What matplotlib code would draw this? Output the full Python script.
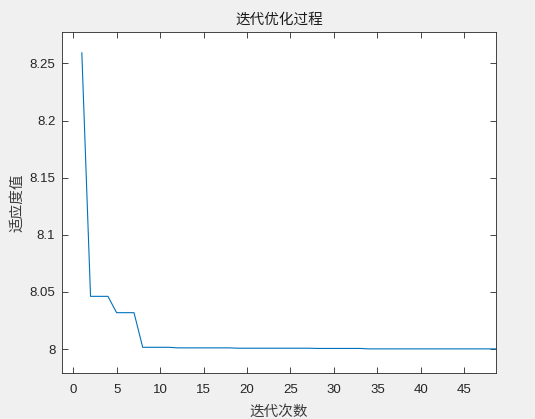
import numpy as np
import matplotlib.pyplot as plt

plt.rcParams['font.family'] = ['Liberation Sans', 'Noto Sans CJK SC', 'DejaVu Sans']

# 迭代次数 / 适应度值
iters = list(range(1, 50))
fitness = ([8.2593, 8.0461, 8.0461, 8.0461, 8.0318, 8.0318, 8.0318]
           + [8.0015] * 4      # 8-11
           + [8.0010] * 7      # 12-18
           + [8.0007] * 9      # 19-27
           + [8.0005] * 6      # 28-33
           + [8.0001] * 16)    # 34-49

xticks = list(range(0, 50, 5))
yticks = [8.0, 8.05, 8.1, 8.15, 8.2, 8.25]
ytick_labels = ['8', '8.05', '8.1', '8.15', '8.2', '8.25']

fig = plt.figure(figsize=(5.35, 4.19), dpi=100, facecolor='#f0f0f0')
ax = fig.add_axes([0.1164, 0.1098, 0.8101, 0.8138])
ax.plot(iters, fitness, color='#0072BD', linewidth=0.8)

ax.set_xlim(-1.25, 48.6)
ax.set_ylim(7.979, 8.2775)
ax.set_xticks(xticks)
ax.set_yticks(yticks)
ax.set_yticklabels(ytick_labels)

ax.tick_params(direction='in', top=True, right=True, length=4, width=0.6,
               colors='#262626', labelsize=9.5, pad=5)
ax.tick_params(axis='x', pad=8)
for s in ax.spines.values():
    s.set_color('#262626')
    s.set_linewidth(0.6)

cjk = ['Noto Sans CJK SC', 'DejaVu Sans']
ax.set_title('迭代优化过程', family=cjk, fontsize=10.5, color='#1a1a1a', pad=6)
ax.set_xlabel('迭代次数', family=cjk, fontsize=10.5, color='#3a3a3a', labelpad=6)
ax.set_ylabel('适应度值', family=cjk, fontsize=10.5, color='#3a3a3a', labelpad=4)

fig.savefig('out.png', dpi=100, facecolor=fig.get_facecolor())
